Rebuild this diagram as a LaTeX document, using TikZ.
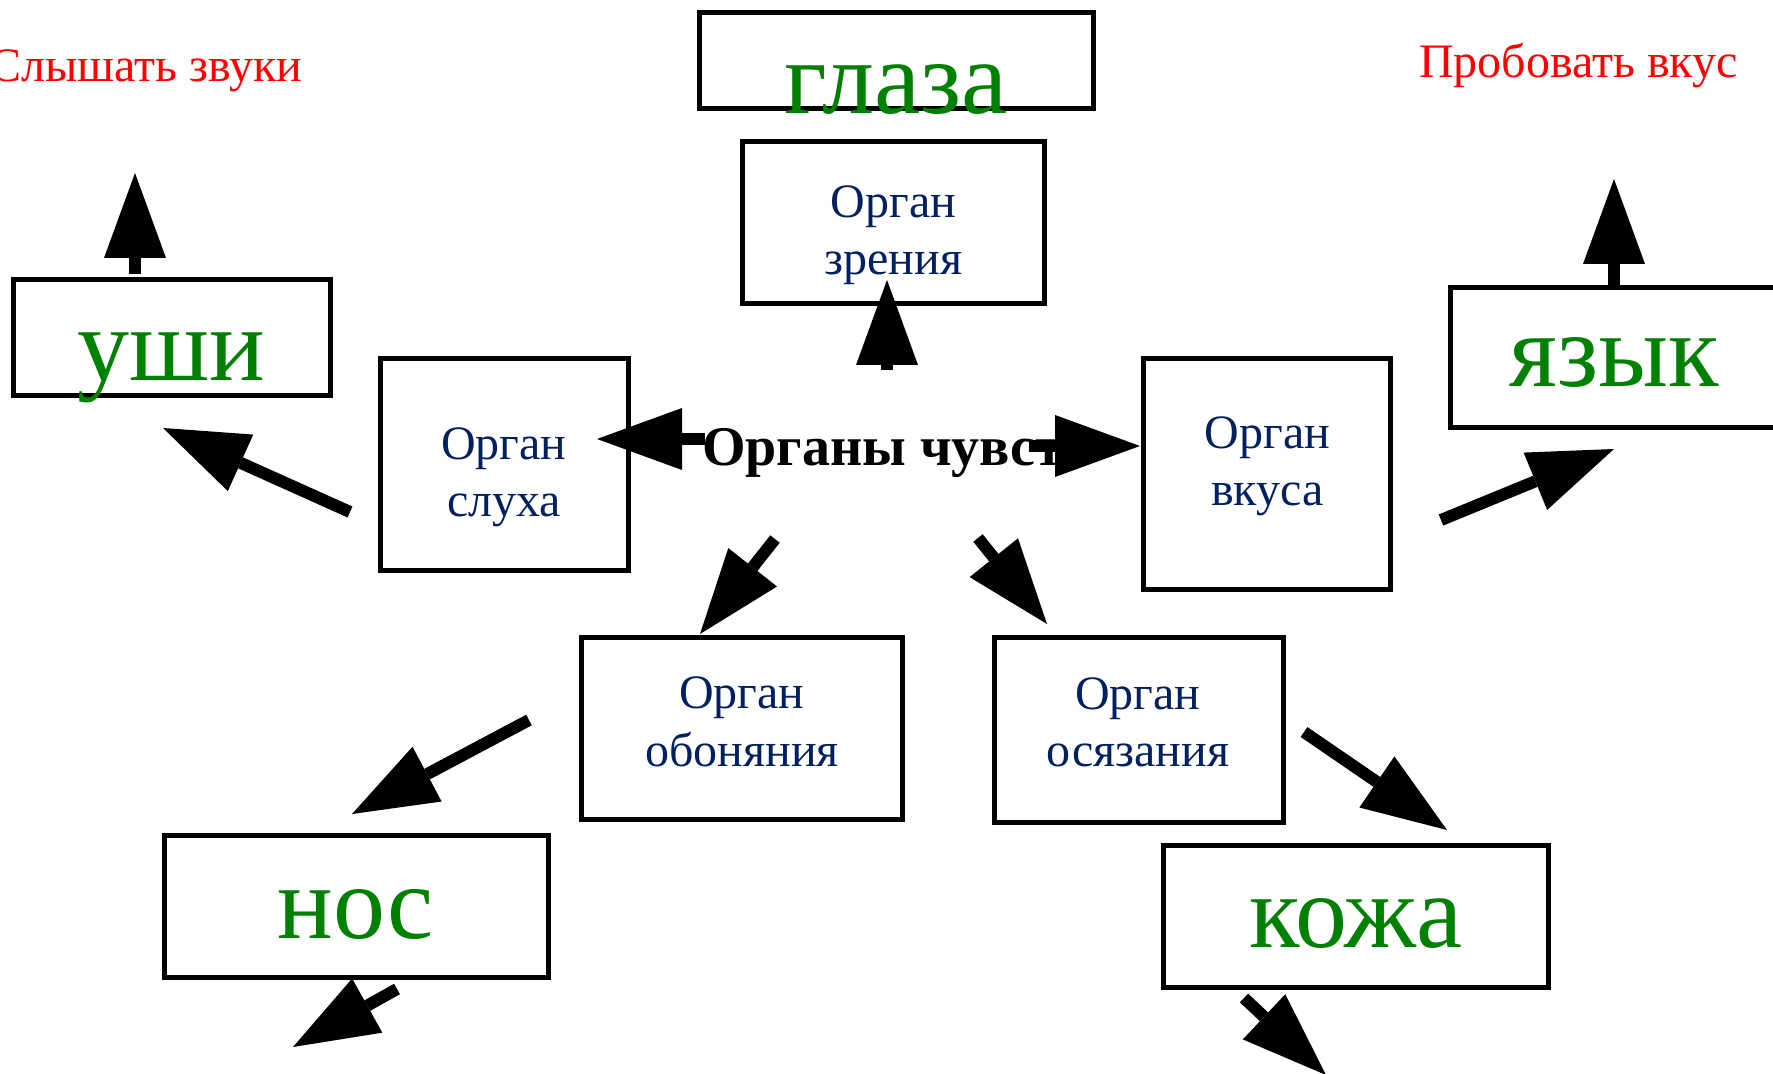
\documentclass[tikz,border=0pt]{standalone}
\usepackage{fontspec}
\setmainfont{Liberation Serif}
\usetikzlibrary{arrows.meta}
\definecolor{organblue}{RGB}{0,32,96}
\definecolor{sensegreen}{RGB}{0,128,0}

\begin{document}
\begin{tikzpicture}[x=0.5pt, y=-0.5pt,
    box/.style={draw, line width=2.5pt, inner sep=0pt},
    organ/.style={text=organblue, align=center, anchor=base, font=\fontsize{24pt}{28.5pt}\selectfont},
    sense/.style={text=sensegreen, anchor=base, font=\fontsize{52pt}{60pt}\selectfont},
    act/.style={text=red, anchor=base, font=\fontsize{24pt}{28pt}\selectfont},
    arr/.style={line width=6pt, -{Triangle[length=42.5pt, width=31pt, line width=0pt]}}]
  \useasboundingbox (0,0) rectangle (1773,1074);

  % boxes
  \node[box, minimum width=197pt, minimum height=48pt] (G) at (896.5,60.5) {};
  \node[box, minimum width=151pt, minimum height=81pt] (Z) at (893.5,222.5) {};
  \node[box, minimum width=124pt, minimum height=106pt] (S) at (504.5,464.5) {};
  \node[box, minimum width=123.5pt, minimum height=115.5pt] (V) at (1267,474) {};
  \node[box, minimum width=160.5pt, minimum height=91pt] (O) at (742,728.5) {};
  \node[box, minimum width=144.5pt, minimum height=92.5pt] (K) at (1139,730) {};
  \node[box, minimum width=158.5pt, minimum height=58pt] (U) at (172,337.5) {};
  \node[box, minimum width=163.5pt, minimum height=70pt] (Y) at (1614,357.5) {};
  \node[box, minimum width=192pt, minimum height=71pt] (N) at (356.5,906.5) {};
  \node[box, minimum width=192.5pt, minimum height=71pt] (Q) at (1356,916.5) {};

  % texts (organ labels sit on the baseline of their last line)
  \node[sense] (g) at (896,114) {глаза};
  \node[sense] (u) at (171,381) {уши};
  \node[sense] (y) at (1614,387) {язык};
  \node[sense] (n) at (356,938) {нос};
  \node[sense] (q) at (1356,947) {кожа};
  \node[organ] (z) at (893.5,275) {Орган\\зрения};
  \node[organ] (s) at (504,517) {Орган\\слуха};
  \node[organ] (v) at (1267.5,506) {Орган\\вкуса};
  \node[organ] (o) at (742,766) {Орган\\обоняния};
  \node[organ] (k) at (1138,767) {Орган\\осязания};
  \node[anchor=base west, font=\bfseries\fontsize{28pt}{32pt}\selectfont] (C) at (695,466) {Органы чувств};
  \node[act, anchor=base west] (hear) at (-18,82) {Слышать звуки};
  \node[act] (taste) at (1578.5,78) {Пробовать вкус};

  % arrow ends
  \coordinate (c1) at (887,370);   \coordinate (z1) at (887,280);
  \coordinate (c2) at (705,439);   \coordinate (s1) at (597,439);
  \coordinate (c3) at (1029,446);  \coordinate (v1) at (1140,446);
  \coordinate (c4) at (775,539);   \coordinate (o1) at (700,634);
  \coordinate (c5) at (978,538);   \coordinate (k1) at (1047,624);
  \coordinate (s2) at (350,512);   \coordinate (u1) at (163,428);
  \coordinate (u2) at (135,274);   \coordinate (u3) at (135,173);
  \coordinate (v2) at (1441,520);  \coordinate (y1) at (1614,449);
  \coordinate (y2) at (1614,285);  \coordinate (y3) at (1614,179);
  \coordinate (o2) at (529,720);   \coordinate (n1) at (352,814);
  \coordinate (n2) at (397,989);   \coordinate (n3) at (293,1047);
  \coordinate (k2) at (1304,732);  \coordinate (q1) at (1447,830);
  \coordinate (q2) at (1244,998);  \coordinate (q3) at (1326,1075);

  \draw[arr] (c1) -- (z1);
  \draw[arr] (c2) -- (s1);
  \draw[arr] (c3) -- (v1);
  \draw[arr] (c4) -- (o1);
  \draw[arr] (c5) -- (k1);
  \draw[arr] (s2) -- (u1);
  \draw[arr] (u2) -- (u3);
  \draw[arr] (v2) -- (y1);
  \draw[arr] (y2) -- (y3);
  \draw[arr] (o2) -- (n1);
  \draw[arr] (n2) -- (n3);
  \draw[arr] (k2) -- (q1);
  \draw[arr] (q2) -- (q3);
\end{tikzpicture}
\end{document}
